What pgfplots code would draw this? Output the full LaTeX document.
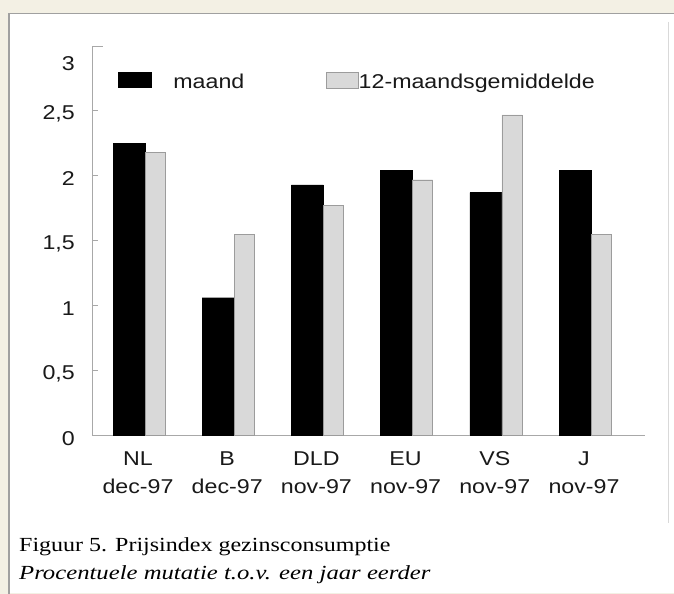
\documentclass[border=0pt]{standalone}
\usepackage{fontspec}
\setmainfont{Liberation Serif}[FakeStretch=1.2, ItalicFeatures={FakeStretch=1.235}]
\newfontfamily\chartsans{Liberation Sans}[FakeStretch=1.16]
\usepackage{pgfplots}
\pgfplotsset{compat=1.18}
\definecolor{cream}{HTML}{F3F0E4}
\definecolor{framegray}{HTML}{A0A0A0}
\definecolor{axisgray}{HTML}{A8A8A8}
\definecolor{barlight}{HTML}{D9D9D9}
\definecolor{baredge}{HTML}{9C9C9C}
\newcommand{\fl}{\rule{0pt}{15bp}}
\begin{document}
\begin{tikzpicture}[x=1bp,y=1bp]
\useasboundingbox (0,0) rectangle (674,594);
\fill[cream] (0,0) rectangle (674,594);
\fill[white] (9,1) rectangle (674,580.5);
\draw[framegray, line width=1.5bp] (9,0) -- (9,580.5) -- (674,580.5);
\draw[black!15, line width=1bp] (668,572) -- (668,71);
\begin{axis}[
  at={(92,122.5)}, anchor=south west, scale only axis,
  width=553bp, height=389bp,
  xmin=92, xmax=645, ymin=0, ymax=3,
  axis x line=bottom, axis y line=left,
  axis line style={-, axisgray, line width=1bp},
  xtick={138,227.2,316.4,405.6,494.8,584},
  xticklabels={{\fl NL\\dec-97},{\fl B\\dec-97},{\fl DLD\\nov-97},{\fl EU\\nov-97},{\fl VS\\nov-97},{\fl J\\nov-97}},
  x tick style={draw=none},
  xticklabel style={align=center, inner sep=0pt, font=\chartsans\fontsize{20bp}{28bp}\selectfont, text=black!90, yshift=-15.5bp},
  ytick={0,0.5,1,1.5,2,2.5},
  yticklabels={0,{0,5},1,{1,5},2,{2,5}},
  extra y ticks={3}, extra y tick labels={3},
  extra y tick style={major tick length=11bp, yticklabel style={yshift=-14bp}},
  y tick style={axisgray, line width=1bp},
  tick align=inside, major tick length=6bp,
  yticklabel style={inner sep=0pt, xshift=-17bp, yshift=-3bp, font=\chartsans\fontsize{20bp}{24bp}\selectfont, text=black!90},
  legend columns=2,
  legend cell align=left,
  legend style={at={(0.047,0.886)}, anchor=south west, draw=none, fill=none,
    inner sep=0pt, outer sep=0pt, column sep=0pt,
    font=\chartsans\fontsize{20bp}{24bp}\selectfont,
    nodes={inner sep=0pt, text=black!90},
    /tikz/every even column/.append style={column sep=82bp}},
  clip=false,
]
\addplot[ybar, bar width=32, bar shift=-9, fill=black, draw=black,
  legend image code/.code={\draw[fill=black,draw=black] (0bp,-5bp) rectangle (33bp,10bp); \path (55bp,0bp);}]
  coordinates {(138,2.25) (227.2,1.06) (316.4,1.93) (405.6,2.04) (494.8,1.87) (584,2.04)};
\addlegendentry{maand}
\addplot[ybar, bar width=20, bar shift=17, fill=barlight, draw=baredge,
  legend image code/.code={\draw[fill=barlight,draw=baredge] (0bp,-6bp) rectangle (32bp,10bp);}]
  coordinates {(138,2.18) (227.2,1.55) (316.4,1.77) (405.6,1.97) (494.8,2.47) (584,1.55)};
\addlegendentry{12-maandsgemiddelde}
\end{axis}
\node[anchor=base west, inner sep=0pt, font=\fontsize{20bp}{24bp}\selectfont] at (19,42) {Figuur 5. Prijsindex gezinsconsumptie};
\node[anchor=base west, inner sep=0pt, font=\itshape\fontsize{20bp}{24bp}\selectfont] at (19,14.5) {Procentuele mutatie t.o.v. een jaar eerder};
\end{tikzpicture}
\end{document}
